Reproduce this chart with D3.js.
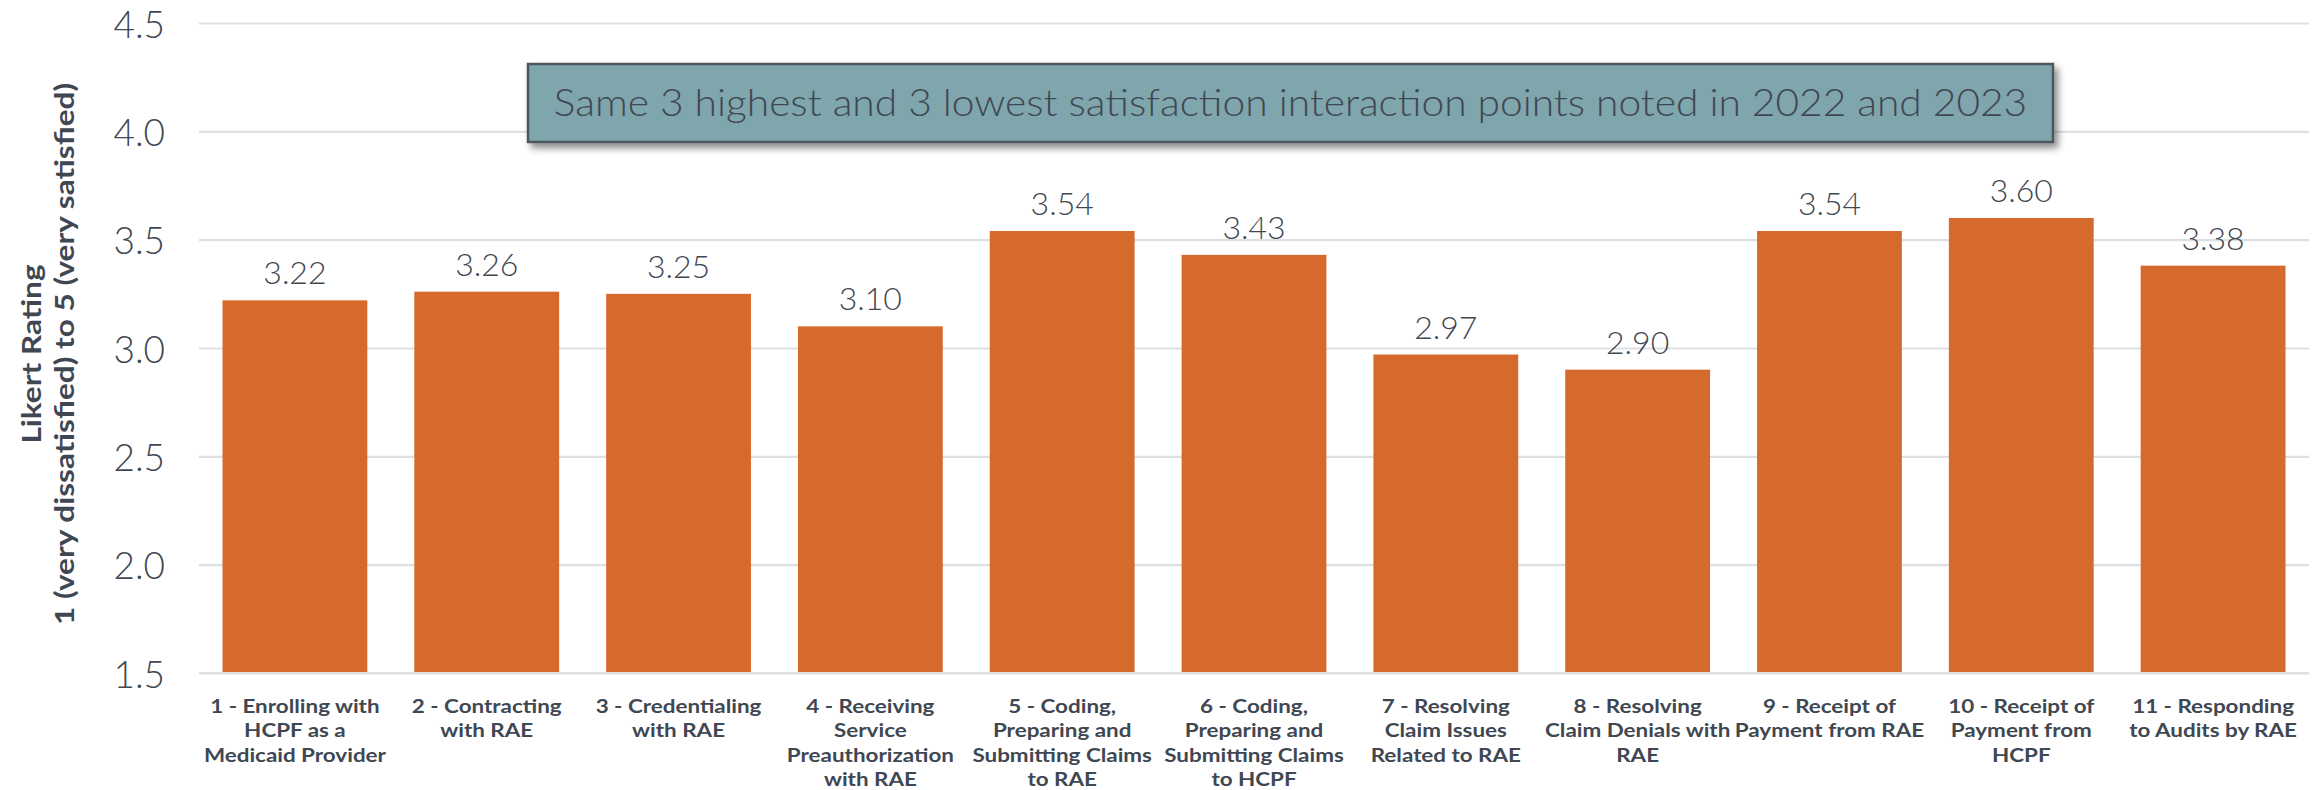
<!DOCTYPE html>
<html>
<head>
<meta charset="utf-8">
<script src="https://cdn.jsdelivr.net/npm/d3@7"></script>
<style>
  html, body { margin: 0; padding: 0; background: #ffffff; }
  svg { display: block; }
  text { font-family: "Lato", "Open Sans", sans-serif; }
</style>
</head>
<body>
<svg id="chart" width="2312" height="790"></svg>
<script>
// Interaction points (each category is drawn as stacked label lines)
const categories = [
  ["1 - Enrolling with", "HCPF as a", "Medicaid Provider"],
  ["2 - Contracting", "with RAE"],
  ["3 - Credentialing", "with RAE"],
  ["4 - Receiving", "Service", "Preauthorization", "with RAE"],
  ["5 - Coding,", "Preparing and", "Submitting Claims", "to RAE"],
  ["6 - Coding,", "Preparing and", "Submitting Claims", "to HCPF"],
  ["7 - Resolving", "Claim Issues", "Related to RAE"],
  ["8 - Resolving", "Claim Denials with", "RAE"],
  ["9 - Receipt of", "Payment from RAE"],
  ["10 - Receipt of", "Payment from", "HCPF"],
  ["11 - Responding", "to Audits by RAE"]
];

// Mean Likert rating per interaction point
const ratings = [3.22, 3.26, 3.25, 3.10, 3.54, 3.43, 2.97, 2.90, 3.54, 3.60, 3.38];

// Value-axis ticks and titles
const yTicks = [1.5, 2.0, 2.5, 3.0, 3.5, 4.0, 4.5];
const yTitleLines = ["Likert Rating", "1 (very dissatisfied) to 5 (very satisfied)"];
const calloutText = "Same 3 highest and 3 lowest satisfaction interaction points noted in 2022 and 2023";

const svg = d3.select("#chart");
const plot = { left: 199, right: 2309, top: 23, bottom: 673 };

const textColor = "#3f4852";
const barColor = "#d66a2d";
const gridColor = "#dcdfe3";

// Geometric sans faces run wider than Lato; widen glyphs along the text direction
const wideBold = 1.15;
const wideLight = 1.1;

const keys = categories.map((_, i) => i);
const x = d3.scaleBand()
  .domain(keys)
  .range([plot.left, plot.right])
  .paddingInner(0.245)
  .paddingOuter(0.1225);

const y = d3.scaleLinear()
  .domain([1.5, 4.5])
  .range([plot.bottom, plot.top]);

// Gridlines with tick labels on the left
const yAxis = d3.axisLeft(y)
  .tickValues(yTicks)
  .tickFormat(d3.format(".1f"))
  .tickSize(-(plot.right - plot.left))
  .tickPadding(34);

const gy = svg.append("g")
  .attr("transform", `translate(${plot.left},0)`)
  .call(yAxis);
gy.select(".domain").remove();
gy.selectAll(".tick line")
  .attr("stroke", gridColor)
  .attr("stroke-width", 2.2);
gy.selectAll(".tick text")
  .attr("fill", textColor)
  .attr("font-size", 37)
  .attr("font-weight", 300)
  .attr("dy", "0.38em")
  .style("font-family", "Lato, 'Open Sans', sans-serif");

// Bars
svg.append("g").selectAll("rect")
  .data(ratings)
  .join("rect")
  .attr("x", (d, i) => x(i))
  .attr("width", x.bandwidth())
  .attr("y", d => y(d))
  .attr("height", d => y(1.5) - y(d))
  .attr("fill", barColor);

// Baseline redrawn over bar bottoms
svg.append("line")
  .attr("x1", plot.left).attr("x2", plot.right)
  .attr("y1", y(1.5)).attr("y2", y(1.5))
  .attr("stroke", gridColor).attr("stroke-width", 2.2);

// Value labels above bars
svg.append("g").selectAll("text")
  .data(ratings)
  .join("text")
  .attr("x", (d, i) => x(i) + x.bandwidth() / 2)
  .attr("y", d => y(d) - 16)
  .attr("text-anchor", "middle")
  .attr("fill", textColor)
  .attr("font-size", 32)
  .attr("font-weight", 300)
  .text(d => d.toFixed(2));

// Category labels below the axis
const xl = svg.append("g").selectAll("text")
  .data(categories)
  .join("text")
  .attr("transform", (d, i) => `translate(${x(i) + x.bandwidth() / 2},713) scale(${wideBold},1)`)
  .attr("text-anchor", "middle")
  .attr("fill", textColor)
  .attr("font-size", 19.5)
  .attr("font-weight", 700);
xl.selectAll("tspan")
  .data(d => d)
  .join("tspan")
  .attr("x", 0)
  .attr("dy", (d, j) => j === 0 ? 0 : 24.5)
  .text(d => d);

// Rotated y-axis title (two lines)
const yt = svg.append("text")
  .attr("transform", `translate(41,${(plot.top + plot.bottom) / 2 + 6}) rotate(-90) scale(1.17,1)`)
  .attr("text-anchor", "middle")
  .attr("fill", textColor)
  .attr("font-size", 27)
  .attr("font-weight", 700);
yt.selectAll("tspan")
  .data(yTitleLines)
  .join("tspan")
  .attr("x", 0)
  .attr("dy", (d, i) => i === 0 ? 0 : 33)
  .text(d => d);

// Callout box with drop shadow
const defs = svg.append("defs");
const f = defs.append("filter").attr("id", "shadow")
  .attr("x", "-5%").attr("y", "-30%").attr("width", "110%").attr("height", "170%");
f.append("feDropShadow")
  .attr("dx", 4).attr("dy", 5).attr("stdDeviation", 3.5)
  .attr("flood-color", "#000").attr("flood-opacity", 0.45);

const box = { x: 528, y: 64, w: 1525, h: 78 };
svg.append("rect")
  .attr("x", box.x).attr("y", box.y)
  .attr("width", box.w).attr("height", box.h)
  .attr("fill", "#7fa5ad")
  .attr("stroke", "#4e555d")
  .attr("stroke-width", 2.5)
  .attr("filter", "url(#shadow)");
svg.append("text")
  .attr("transform", `translate(${box.x + box.w / 2},${box.y + box.h / 2 + 13}) scale(${wideLight},1)`)
  .attr("text-anchor", "middle")
  .attr("fill", "#3f4852")
  .attr("font-size", 37)
  .attr("font-weight", 300)
  .text(calloutText);
</script>
</body>
</html>
